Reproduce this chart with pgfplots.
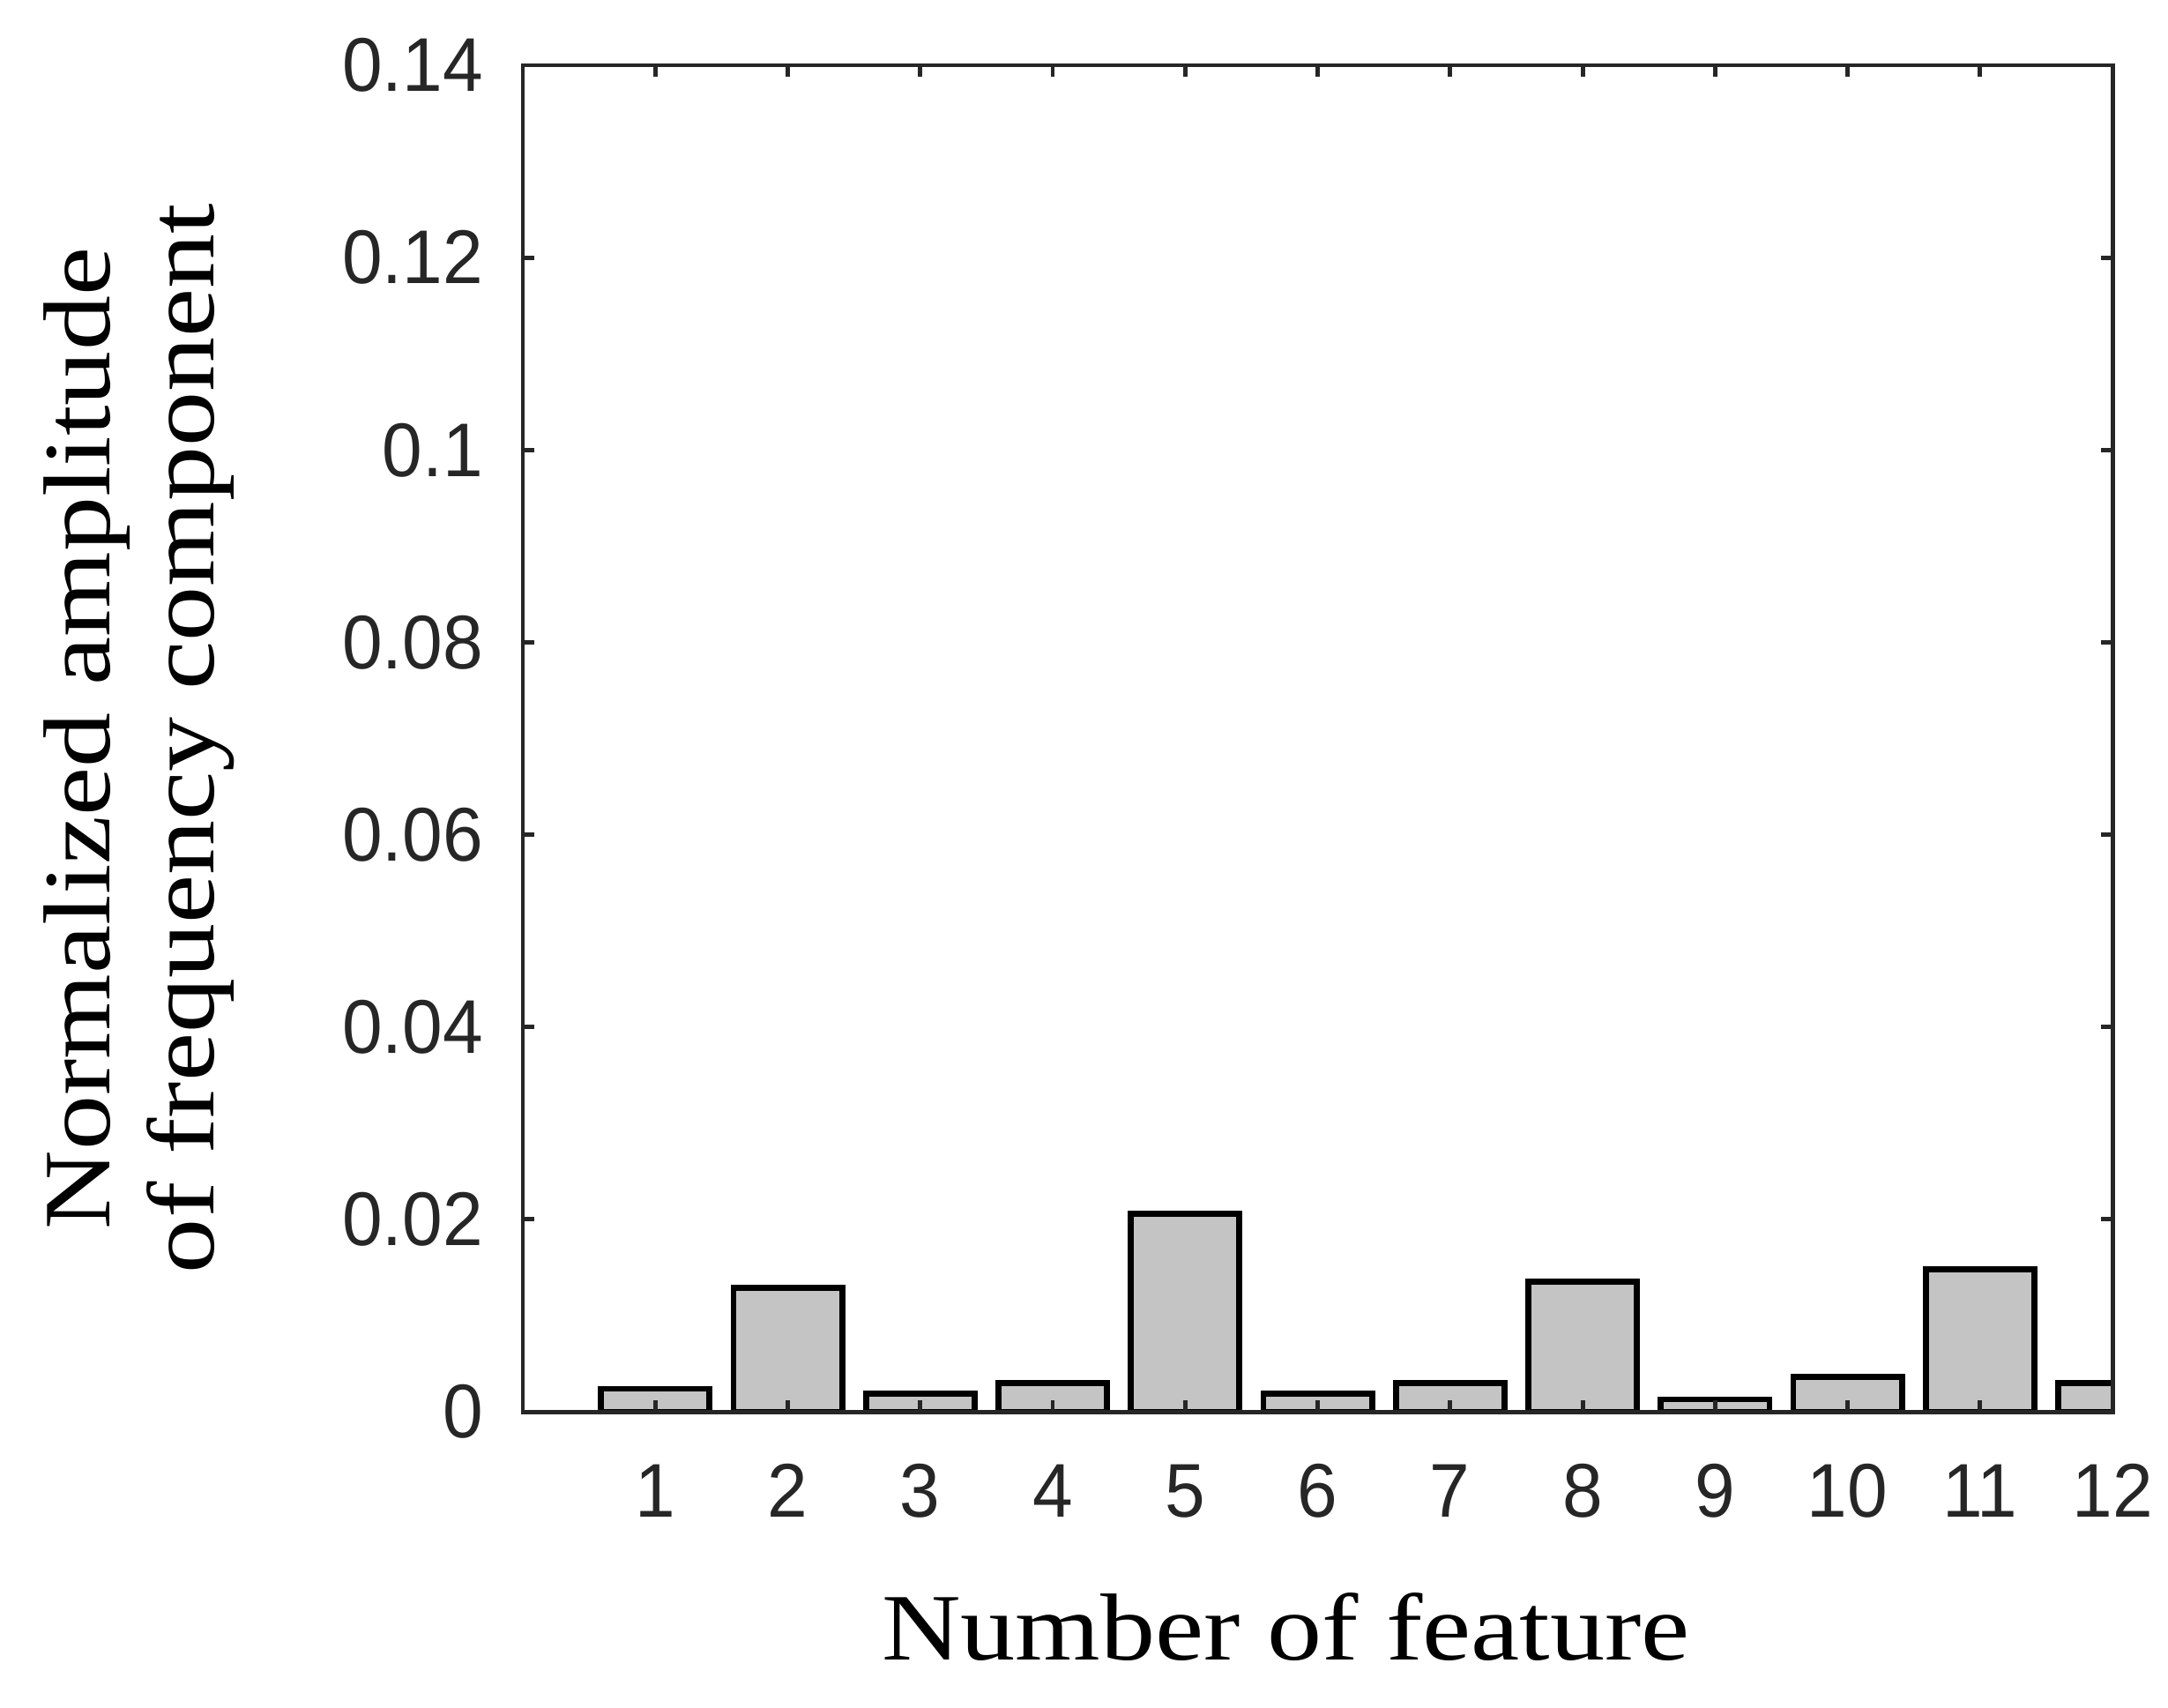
\documentclass[border=0pt]{standalone}
\usepackage{fontspec}
\setmainfont{Liberation Serif}
\newfontfamily\tickfont[FakeStretch=0.95]{Liberation Sans}
\newfontfamily\labelfont[FakeStretch=1.15]{Liberation Serif}
\usepackage{pgfplots}
\pgfplotsset{compat=1.18}
\definecolor{barfill}{HTML}{C4C4C4}
\definecolor{axisgray}{HTML}{262626}

\begin{document}
\begin{tikzpicture}
\begin{axis}[
  scale only axis,
  width=10.277cm, height=8.704cm,
  xmin=0, xmax=12, ymin=0, ymax=0.14,
  enlargelimits=false,
  xtick={1,2,3,4,5,6,7,8,9,10,11,12},
  ytick={0,0.02,0.04,0.06,0.08,0.1,0.12,0.14},
  yticklabels={0,0.02,0.04,0.06,0.08,0.1,0.12,0.14},
  tick align=inside, major tick length=0.074cm,
  tick style={axisgray, line width=0.8pt},
  axis line style={axisgray, line width=0.8pt},
  axis on top,
  /pgf/number format/assume math mode=true,
  ticklabel style={font=\fontsize{14}{16}\tickfont, text=axisgray},
  xticklabel style={anchor=base, inner sep=0pt, yshift=-0.678cm},
  yticklabel style={anchor=east, inner sep=0pt, xshift=-0.251cm},
  xlabel={Number of feature},
  ylabel={Normalized amplitude\\of frequency component},
  label style={font=\fontsize{17.5}{19.1}\labelfont},
  xlabel style={at={(axis description cs:0.48,-0.184)}, anchor=base, inner sep=0pt},
  ylabel style={at={(axis description cs:-0.181,0.5)}, anchor=south, inner sep=0pt, align=center},
]
\addplot[ybar, bar width=0.82, fill=barfill, draw=black, line width=1.1pt] coordinates {
  (1,0.0024)(2,0.0129)(3,0.0019)(4,0.0030)(5,0.0206)(6,0.0019)
  (7,0.0030)(8,0.0135)(9,0.0013)(10,0.0036)(11,0.0148)(12,0.0030)
};
\end{axis}
\path (current axis.south west) ++(-3.380,-1.910);
\path (current axis.north east) ++(0.359,0.422);
\end{tikzpicture}
\end{document}
